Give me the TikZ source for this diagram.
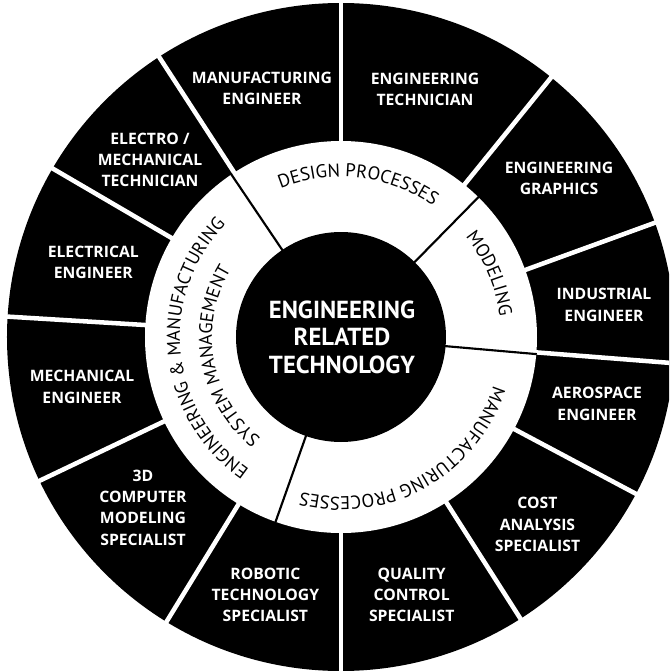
\documentclass[tikz,border=0pt]{standalone}
\usepackage{fontspec}
\setmainfont{PT Sans}
\newfontfamily\wedgefont{Open Sans}
\usetikzlibrary{decorations.text}
\newcommand\ringfont{\fontsize{13.9}{15}\selectfont}
\begin{document}
\begin{tikzpicture}[x=0.75pt,y=0.75pt,
  wedgelabel/.style={text=white, font=\wedgefont\bfseries\fontsize{11.8}{16}\selectfont, align=center, inner sep=0pt},
  centerlabel/.style={text=white, font=\bfseries\fontsize{18.5}{20.6}\selectfont, align=center, inner sep=0pt},
  outersep/.style={white, line width=3.4pt},
  innersep/.style={black, line width=1.6pt},
  ringtext/.style={decorate, decoration={text along path, text align=center, text={#1}}}]
\useasboundingbox (-341,-335) rectangle (328,337);
\clip (-341,-335) rectangle (328,337);
\fill[white] (-341,-335) rectangle (328,337);
% rings
\fill[black] (0,0) circle[radius=334];
\fill[white] (0,0) circle[radius=196];
% outer separators
\foreach \a in {90,51,20,-4.5,-28,-57.5,-90,-121.5,-154.5,-183.5,-210.3,-237}
  \draw[outersep] (\a:194) -- (\a:345);
% inner separators
\foreach \a in {45.5,-5,250.5,124}
  \draw[innersep] (\a:100) -- (\a:196.5);
\fill[black] (0,0) circle[radius=105];
% centre
\node[centerlabel] (core) at (1,0) {ENGINEERING\\RELATED\\TECHNOLOGY};
% wedge labels
\node[wedgelabel] (mfgeng) at (-79,248.5) {MANUFACTURING\\ENGINEER};
\node[wedgelabel] (engtech) at (84,247.5) {ENGINEERING\\TECHNICIAN};
\node[wedgelabel] (enggraph) at (218,158.7) {ENGINEERING\\GRAPHICS};
\node[wedgelabel] (indeng) at (263,32) {INDUSTRIAL\\ENGINEER};
\node[wedgelabel] (aeroeng) at (256,-67) {AEROSPACE\\ENGINEER};
\node[wedgelabel] (cost) at (196.5,-187.7) {COST\\ANALYSIS\\SPECIALIST};
\node[wedgelabel] (quality) at (70.7,-258) {QUALITY\\CONTROL\\SPECIALIST};
\node[wedgelabel] (robotic) at (-75.6,-258) {ROBOTIC\\TECHNOLOGY\\SPECIALIST};
\node[wedgelabel] (threed) at (-198,-170.7) {3D\\COMPUTER\\MODELING\\SPECIALIST};
\node[wedgelabel] (mecheng) at (-259,-50) {MECHANICAL\\ENGINEER};
\node[wedgelabel] (eleceng) at (-247.7,74.6) {ELECTRICAL\\ENGINEER};
\node[wedgelabel] (electro) at (-191,177) {ELECTRO /\\MECHANICAL\\TECHNICIAN};
% ring texts
\path[ringtext={|\ringfont|DESIGN PROCESSES}] (143.5:160) arc[start angle=143.5, end angle=23.5, radius=160];
\path[ringtext={|\ringfont|MODELING}] (68.2:160) arc[start angle=68.2, end angle=-21.8, radius=160];
\path[ringtext={|\ringfont|MANUFACTURING PROCESSES}] (-1:160) arc[start angle=-1, end angle=-121, radius=160];
\path[ringtext={|\ringfont|ENGINEERING {\&} MANUFACTURING}] (245.5:161) arc[start angle=245.5, end angle=125.5, radius=161];
\path[ringtext={|\ringfont|SYSTEM MANAGEMENT}] (250:129) arc[start angle=250, end angle=130, radius=129];
\end{tikzpicture}
\end{document}
